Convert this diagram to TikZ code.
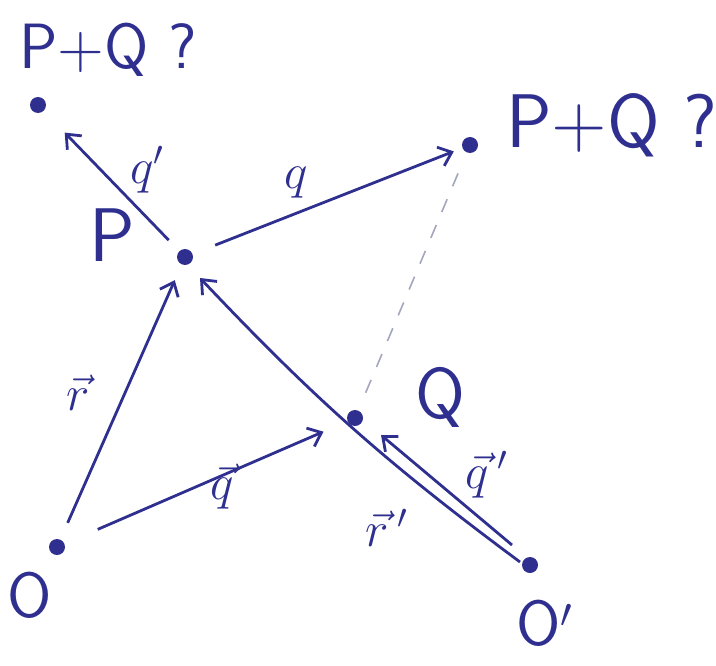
\documentclass[tikz,border=0pt]{standalone}
\usepackage{amsmath}
\usetikzlibrary{arrows.meta}
\definecolor{ink}{HTML}{2E2F8F}
\definecolor{faint}{HTML}{A3A6BE}
\begin{document}
\begin{tikzpicture}[x=.5pt,y=.5pt,line width=1.4pt,ink,>={Straight Barb[length=6pt,width=10pt]},
  dot/.style={circle,fill=ink,inner sep=0pt,minimum size=8pt},
  ptlabel/.style={font=\sffamily\fontsize{32}{36}\selectfont},
  veclabel/.style={font=\fontsize{23}{26}\selectfont}]
\useasboundingbox (0,0) rectangle (716,665);
\node[dot] (o) at (57,118) {};\node[dot] (p) at (185,408) {};\node[dot] (q) at (355,247) {};
\node[dot] (op) at (530,100) {};\node[dot] (pq1) at (38,560) {};\node[dot] (pq2) at (470,520) {};
\node[ptlabel] (lo) at (30,70) {O};\node[ptlabel,font=\sffamily\fontsize{38}{40}\selectfont] (lp) at (112,430) {P};
\node[ptlabel,font=\sffamily\fontsize{36}{40}\selectfont] (lq) at (440,268) {Q};\node[ptlabel] (lop) at (545,42) {O$'$};
\node[ptlabel] (lpq1) at (108,615) {P+Q ?};\node[ptlabel,font=\sffamily\fontsize{38}{42}\selectfont] (lpq2) at (612,540) {P+Q ?};
\draw[->,shorten <=8.5pt,shorten >=8pt] (o) -- (p);\draw[->,shorten <=17.5pt,shorten >=12.5pt] (o) -- (q);
\draw[->,shorten <=11.5pt,shorten >=4pt] (p) -- (pq2);\draw[->,shorten <=7pt,shorten >=14.5pt] (p) -- (pq1);
\draw[->] ([shift={(-5pt,1.5pt)}]op.center) to[bend left=5] ([shift={(7.5pt,-10.5pt)}]p.center);
\draw[->] ([shift={(-9pt,10pt)}]op.center) -- ([shift={(13pt,-8.5pt)}]q.center);
\draw[faint,line width=.8pt,dash pattern=on 7pt off 7pt,shorten <=9pt,shorten >=7.5pt] (q) -- (pq2);
\node[veclabel] (lr) at (78,272) {$\vec r$};\node[veclabel] (lqv) at (222,178) {$\vec q$};
\node[veclabel] (lqt) at (296,482) {$q$};\node[veclabel] (lqp) at (147,495) {$q'$};
\node[veclabel] (lrp) at (387,137) {$\vec r\,'$};\node[veclabel] (lqpv) at (487,190) {$\vec q\,'$};
\end{tikzpicture}
\end{document}
